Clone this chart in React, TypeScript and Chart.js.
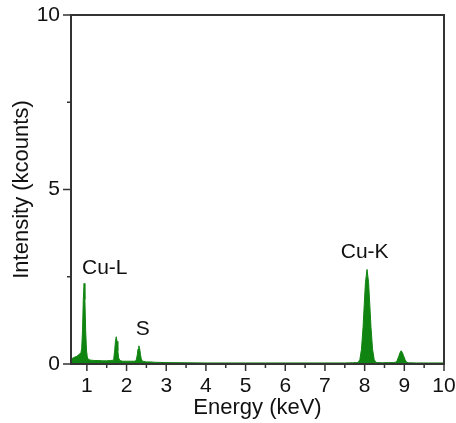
import React, { useEffect, useRef } from "react";
import { Chart, registerables } from "chart.js";

Chart.register(...registerables);

// Energy (keV)
const energy = [
  0.6, 0.65, 0.7, 0.75, 0.8, 0.83, 0.85, 0.87, 0.89, 0.91, 0.93, 0.95, 0.97, 0.99, 1.01, 1.04, 1.1, 1.2, 1.3, 1.4, 1.5, 1.6,
  1.66, 1.68, 1.7, 1.72, 1.74, 1.76, 1.78, 1.8, 1.83, 1.9, 2.0, 2.1, 2.2, 2.23, 2.25, 2.27, 2.29, 2.31, 2.33, 2.35, 2.37, 2.4,
  2.5, 2.6, 2.7, 3.0, 3.5, 4.0, 4.5, 5.0, 5.5, 6.0, 6.5, 7.0, 7.5, 7.7, 7.8, 7.84, 7.88, 7.92, 7.96, 7.99, 8.02, 8.06, 8.1,
  8.13, 8.16, 8.2, 8.24, 8.28, 8.33, 8.45, 8.6, 8.72, 8.78, 8.82, 8.86, 8.89, 8.92, 8.95, 8.98, 9.02, 9.06, 9.1, 9.3, 9.6, 10.0,
];
// Intensity (kcounts)
const counts = [
  0.15, 0.17, 0.2, 0.22, 0.27, 0.3, 0.32, 0.45, 0.95, 1.85, 2.31, 1.85, 0.95, 0.4, 0.2, 0.13, 0.11, 0.1, 0.1, 0.09, 0.09, 0.1,
  0.11, 0.18, 0.38, 0.65, 0.78, 0.65, 0.38, 0.18, 0.1, 0.08, 0.08, 0.08, 0.08, 0.09, 0.14, 0.26, 0.43, 0.52, 0.44, 0.28, 0.15, 0.08,
  0.06, 0.06, 0.05, 0.04, 0.035, 0.03, 0.03, 0.03, 0.03, 0.03, 0.03, 0.03, 0.03, 0.035, 0.04, 0.05, 0.13, 0.42, 1.05, 1.7, 2.33, 2.71, 2.33,
  1.7, 1.05, 0.42, 0.13, 0.05, 0.04, 0.035, 0.04, 0.04, 0.05, 0.1, 0.22, 0.32, 0.38, 0.33, 0.24, 0.12, 0.05, 0.035, 0.03, 0.03, 0.03,
];

const xTicks = [1, 2, 3, 4, 5, 6, 7, 8, 9, 10];
const xMinorTicks = [1.5, 2.5, 3.5, 4.5, 5.5, 6.5, 7.5, 8.5, 9.5];
const yTicks = [0, 5, 10];
const yMinorTicks = [2.5, 7.5];

const peakLabels = ["Cu-L", "S", "Cu-K"];
const peakLabelX = [1.45, 2.41, 8.0];
const peakLabelY = [2.75, 1.0, 3.2];

const FONT = "'Liberation Sans', Arial, sans-serif";
const AXIS = "#333333";
const GREEN = "#108410";

const framePlugin = {
  id: "frame",
  afterDraw(chart: any) {
    const { ctx, chartArea, scales } = chart;
    const xs = scales.x;
    const ys = scales.y;
    ctx.save();
    ctx.strokeStyle = AXIS;
    ctx.lineWidth = 2;
    ctx.strokeRect(chartArea.left, chartArea.top, chartArea.right - chartArea.left, chartArea.bottom - chartArea.top);
    ctx.lineWidth = 1.5;
    ctx.beginPath();
    xTicks.forEach((v) => {
      const px = xs.getPixelForValue(v);
      ctx.moveTo(px, chartArea.bottom);
      ctx.lineTo(px, chartArea.bottom + 7);
    });
    xMinorTicks.forEach((v) => {
      const px = xs.getPixelForValue(v);
      ctx.moveTo(px, chartArea.bottom);
      ctx.lineTo(px, chartArea.bottom + 4);
    });
    yTicks.forEach((v) => {
      const py = ys.getPixelForValue(v);
      ctx.moveTo(chartArea.left, py);
      ctx.lineTo(chartArea.left - 8, py);
    });
    yMinorTicks.forEach((v) => {
      const py = ys.getPixelForValue(v);
      ctx.moveTo(chartArea.left, py);
      ctx.lineTo(chartArea.left - 4, py);
    });
    ctx.stroke();
    ctx.fillStyle = "#111111";
    ctx.font = `21px ${FONT}`;
    ctx.textAlign = "center";
    ctx.textBaseline = "middle";
    peakLabels.forEach((t, i) => {
      ctx.fillText(t, xs.getPixelForValue(peakLabelX[i]), ys.getPixelForValue(peakLabelY[i]));
    });
    ctx.restore();
  },
};

export default function App() {
  const ref = useRef<HTMLCanvasElement | null>(null);
  useEffect(() => {
    document.body.style.margin = "0";
    const chart = new Chart(ref.current as HTMLCanvasElement, {
      type: "line",
      data: {
        datasets: [
          {
            data: energy.map((e, i) => ({ x: e, y: counts[i] })),
            borderColor: GREEN,
            backgroundColor: GREEN,
            borderWidth: 1,
            pointRadius: 0,
            fill: "origin",
            tension: 0,
          },
        ],
      },
      options: {
        animation: false,
        responsive: false,
        layout: { padding: { top: 15, right: 12, left: 0, bottom: 0 } },
        plugins: { legend: { display: false }, tooltip: { enabled: false } },
        scales: {
          x: {
            type: "linear",
            min: 0.6,
            max: 10,
            grid: { display: false, drawTicks: false },
            border: { display: false },
            afterBuildTicks: (s: any) => {
              s.ticks = xTicks.map((v) => ({ value: v }));
            },
            afterFit: (s: any) => {
              s.height = 59;
              s.paddingLeft = 0;
              s.paddingRight = 0;
            },
            ticks: { color: "#111", font: { size: 21, family: FONT }, padding: 10, maxRotation: 0, autoSkip: false },
            title: {
              display: true,
              text: "Energy (keV)",
              color: "#111",
              font: { size: 22, family: FONT },
              padding: { top: 0, bottom: 2 },
            },
          },
          y: {
            type: "linear",
            min: 0,
            max: 10,
            grid: { display: false, drawTicks: false },
            border: { display: false },
            afterBuildTicks: (s: any) => {
              s.ticks = yTicks.map((v) => ({ value: v }));
            },
            afterFit: (s: any) => {
              s.width = 71;
              s.paddingTop = 0;
              s.paddingBottom = 0;
            },
            ticks: { color: "#111", font: { size: 21, family: FONT }, padding: 11 },
            title: {
              display: true,
              text: "Intensity (kcounts)",
              color: "#111",
              font: { size: 22, family: FONT },
              padding: { top: 9, bottom: 0 },
            },
          },
        },
      },
      plugins: [framePlugin],
    } as any);
    return () => chart.destroy();
  }, []);
  return (
    <div style={{ width: 456, height: 423 }}>
      <canvas ref={ref} width={456} height={423} style={{ display: "block", width: 456, height: 423 }} />
    </div>
  );
}
